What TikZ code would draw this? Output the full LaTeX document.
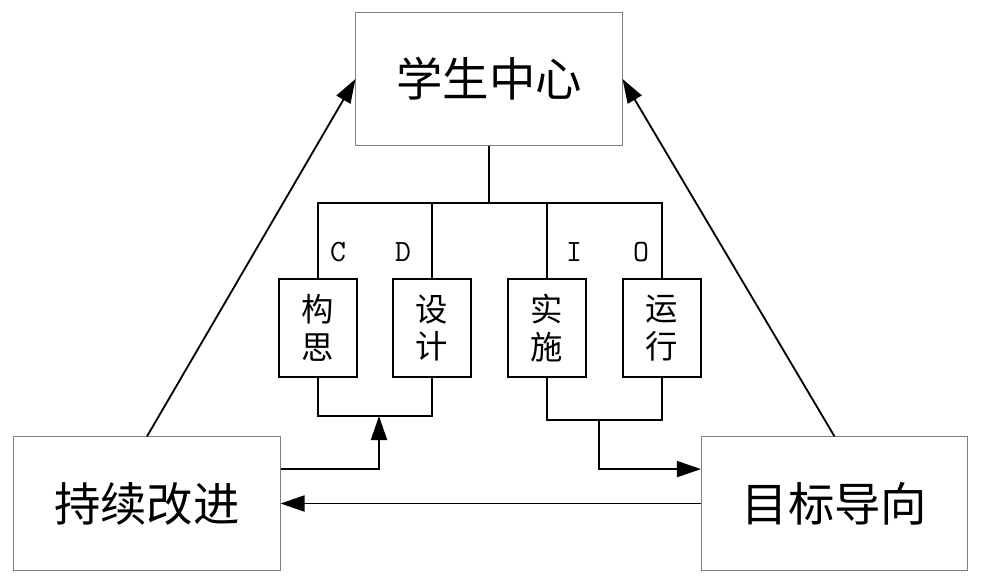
\documentclass[tikz,border=0pt]{standalone}
\usepackage{fontspec}
\newfontfamily\cjk{Noto Sans CJK SC}
\usetikzlibrary{arrows.meta}

\begin{document}
\begin{tikzpicture}[x=0.025cm,y=-0.025cm,
		bigbox/.style={draw=gray,line width=0.7pt,minimum width=6.65cm,minimum height=3.33cm,font=\cjk\fontsize{33}{36}\selectfont},
		smallbox/.style={draw,line width=1.3pt,minimum width=1.95cm,minimum height=2.45cm,align=center,font=\cjk\fontsize{23}{27}\selectfont},
		letter/.style={font=\ttfamily\fontsize{22}{24}\selectfont},
		arr/.style={line width=1.3pt,-{Triangle[length=0.6cm,width=0.4cm]}},
		link/.style={line width=1.3pt}]
		\useasboundingbox (0,0) rectangle (982,582);
		\node[bigbox] (center) at (489,79) {学生中心};
		\node[bigbox] (improve) at (147,503.5) {持续改进};
		\node[bigbox] (goal) at (834.5,503.5) {目标导向};
		\node[smallbox] (goux) at (318,328) {构\\思};
		\node[smallbox] (sheji) at (432,328) {设\\计};
		\node[smallbox] (shishi) at (547,328) {实\\施};
		\node[smallbox] (yunx) at (662,328) {运\\行};
		\node[letter] (lblC) at (338,252) {C};
		\node[letter] (lblD) at (403,252) {D};
		\node[letter] (lblI) at (574,252) {I};
		\node[letter] (lblO) at (641,252) {O};
		\coordinate (bus) at (489,203);
		\coordinate (cd) at (379,416);
		\coordinate (io) at (599,420);
		% top bus
		\draw[link] (center.south) -- (bus);
		\draw[link] (goux.north) |- (bus) -| (yunx.north);
		\draw[link] (sheji.north) -- (sheji.north |- bus);
		\draw[link] (shishi.north) -- (shishi.north |- bus);
		% bottom joins
		\draw[link] (goux.south) |- (cd) -| (sheji.south);
		\draw[link] (shishi.south) |- (io) -| (yunx.south);
		\draw[arr] ([yshift=0.86cm]improve.east) -| (cd);
		\draw[arr] (io) |- ([yshift=0.86cm]goal.west);
		\draw[arr] (goal.west) -- (improve.east);
		\draw[arr] (improve.north) -- (center.west);
		\draw[arr] (goal.north) -- (center.east);
	\end{tikzpicture}
\end{document}
